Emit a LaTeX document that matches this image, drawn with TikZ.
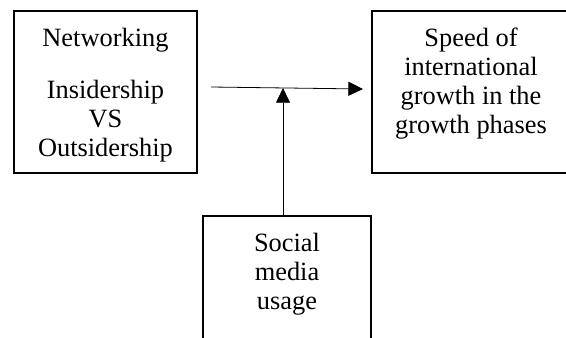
\documentclass[tikz,border=0pt]{standalone}
\usepackage{fontspec}
\setmainfont{Liberation Serif}
\usetikzlibrary{arrows.meta, positioning}

\begin{document}
\begin{tikzpicture}[x=1pt, y=1pt,
    riquadro/.style={draw, line width=0.9pt, inner sep=0pt},
    testo/.style={align=center, inner sep=0pt, font=\fontsize{19.8}{21.7}\selectfont},
    freccia/.style={line width=0.6pt, -{Triangle[length=11pt,width=10.5pt]}}]
    \path[use as bounding box, clip] (0,0) rectangle (424.5,252.75);
    % Riquadro networking
    \node[riquadro, minimum width=137.25pt, minimum height=121.5pt] (netbox) at (79.1,183.75) {};
    \node[testo, below=13pt of netbox.north] (net) {Networking\\[17.3pt]Insidership\\VS\\Outsidership};
    % Riquadro velocita' di crescita
    \node[riquadro, minimum width=148.5pt, minimum height=121.5pt] (speedbox) at (353.25,183.75) {};
    \node[testo, below=13pt of speedbox.north] (speed) {Speed of\\international\\growth in the\\growth phases};
    % Riquadro social media
    \node[riquadro, minimum width=126pt, minimum height=105.75pt] (socialbox) at (215.25,37.9) {};
    \node[testo, below=13pt of socialbox.north] (social) {Social\\media\\usage};
    % Frecce
    \coordinate (da) at (158.25,187.5);
    \coordinate (a) at (272.25,186);
    \coordinate (incrocio) at (212.25,186.7);
    \draw[freccia] (da) -- (a);
    \draw[freccia] (socialbox.north -| incrocio) -- (incrocio);
\end{tikzpicture}
\end{document}
